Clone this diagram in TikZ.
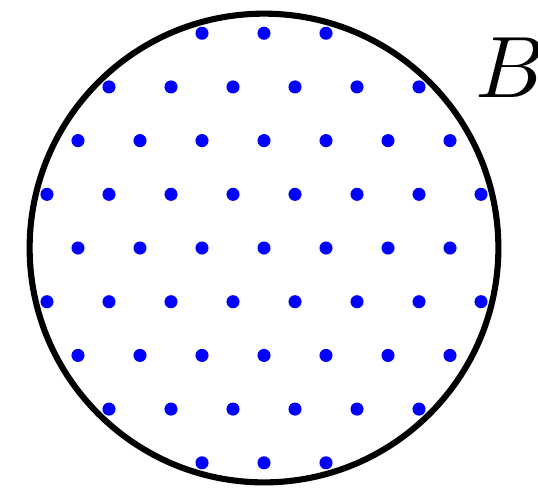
\documentclass[tikz,border=0pt]{standalone}
\usepackage{amssymb}
\usepackage{tikz}

\begin{document}
\begin{tikzpicture}
            \useasboundingbox (-4.258,-3.919) rectangle (4.419,4.0);
            \draw[line width=2.8pt] (0,0) circle (3.78);
            \foreach \j in {-4,...,4} {
                \foreach \i in {-4,...,3} {
                    \pgfmathsetmacro{\px}{\i+0.5*abs(mod(\j,2))}
                    \pgfmathsetmacro{\py}{0.866*\j}
                    \pgfmathparse{(\px*\px+\py*\py<14.3)?1:0}
                    \ifnum\pgfmathresult=1
                        \fill[blue] (\px,\py) circle (3pt);
                    \fi
                }
            }
            \node[anchor=base west, inner sep=0pt, scale=4] (lblB) at (3.38,2.42) {$B$};
        \end{tikzpicture}
\end{document}
